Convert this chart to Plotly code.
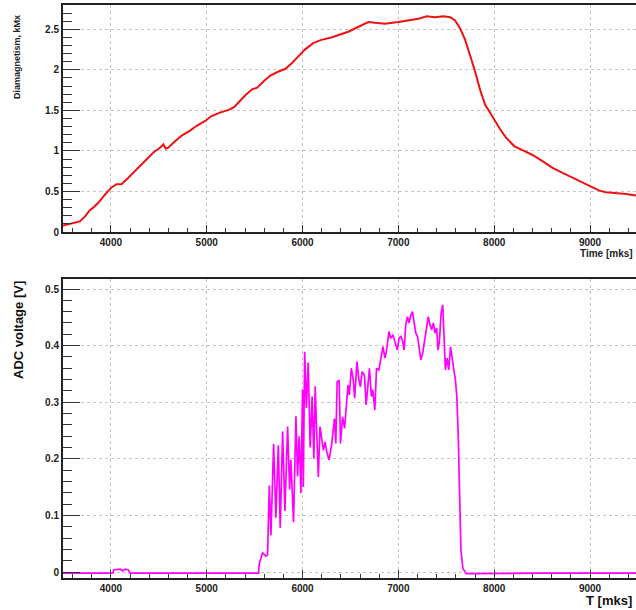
import plotly.graph_objects as go

# ---- data ----
time_top = [3500, 3590, 3676, 3728, 3780, 3815, 3868, 3937, 4007, 4059, 4111, 4181, 4268, 4355,
            4443, 4512, 4547, 4571, 4599, 4669, 4739, 4826, 4895, 4983, 5050, 5131, 5234, 5285,
            5337, 5405, 5474, 5526, 5595, 5663, 5749, 5818, 5887, 5955, 6024, 6110, 6196, 6299,
            6402, 6477, 6547, 6617, 6686, 6756, 6861, 7000, 7105, 7209, 7296, 7383, 7470, 7540,
            7592, 7645, 7697, 7749, 7801, 7854, 7906, 7958, 8010, 8060, 8120, 8208, 8295, 8400,
            8504, 8609, 8714, 8818, 8923, 9010, 9098, 9168, 9272, 9377, 9480]
diamagnetism = [0.08, 0.11, 0.13, 0.19, 0.27, 0.30, 0.36, 0.46, 0.55, 0.59, 0.59, 0.67, 0.77, 0.88,
                0.98, 1.04, 1.08, 1.03, 1.04, 1.12, 1.19, 1.25, 1.31, 1.37, 1.43, 1.47, 1.51, 1.54,
                1.61, 1.69, 1.76, 1.78, 1.86, 1.93, 1.98, 2.01, 2.08, 2.16, 2.25, 2.33, 2.37, 2.40,
                2.44, 2.47, 2.51, 2.55, 2.59, 2.58, 2.57, 2.59, 2.61, 2.63, 2.66, 2.65, 2.66, 2.65,
                2.61, 2.51, 2.37, 2.18, 1.98, 1.75, 1.57, 1.47, 1.36, 1.27, 1.17, 1.06, 1.01, 0.95,
                0.875, 0.79, 0.73, 0.67, 0.61, 0.56, 0.51, 0.49, 0.48, 0.47, 0.45]

time_adc = [3500, 3700, 4020, 4030, 4100, 4120, 4150, 4180, 4200, 5540, 5549, 5583, 5618, 5635,
            5653, 5670, 5698, 5722, 5747, 5767, 5792, 5816, 5844, 5865, 5878, 5906, 5931, 5948,
            5965, 5983, 6000, 6008, 6022, 6040, 6059, 6080, 6100, 6118, 6132, 6147, 6165, 6182,
            6200, 6218, 6235, 6253, 6277, 6305, 6333, 6347, 6361, 6382, 6396, 6418, 6439, 6460,
            6474, 6488, 6509, 6530, 6544, 6568, 6586, 6604, 6621, 6646, 6663, 6681, 6698, 6719,
            6733, 6754, 6772, 6796, 6818, 6839, 6860, 6877, 6902, 6919, 6944, 6965, 6989, 7007,
            7025, 7042, 7060, 7077, 7095, 7112, 7130, 7147, 7165, 7182, 7200, 7218, 7235, 7253,
            7270, 7288, 7312, 7330, 7347, 7365, 7382, 7400, 7414, 7428, 7446, 7463, 7477, 7491,
            7509, 7526, 7544, 7561, 7579, 7596, 7610, 7625, 7639, 7653, 7674, 7709, 8500, 9480]
adc_voltage = [-0.002, -0.002, -0.002, 0.004, 0.005, 0.002, 0.005, 0.004, -0.002, -0.002, 0.015,
               0.034, 0.028, 0.030, 0.153, 0.065, 0.226, 0.096, 0.224, 0.078, 0.248, 0.108, 0.257,
               0.146, 0.198, 0.088, 0.275, 0.169, 0.240, 0.139, 0.322, 0.150, 0.389, 0.290, 0.370,
               0.220, 0.310, 0.200, 0.328, 0.250, 0.168, 0.257, 0.233, 0.215, 0.230, 0.212, 0.198,
               0.227, 0.271, 0.227, 0.336, 0.339, 0.227, 0.274, 0.254, 0.298, 0.330, 0.313, 0.360,
               0.339, 0.307, 0.372, 0.342, 0.327, 0.354, 0.348, 0.295, 0.327, 0.360, 0.310, 0.322,
               0.286, 0.360, 0.357, 0.380, 0.398, 0.378, 0.392, 0.425, 0.413, 0.419, 0.404, 0.392,
               0.413, 0.416, 0.410, 0.392, 0.437, 0.451, 0.440, 0.454, 0.460, 0.440, 0.422, 0.416,
               0.392, 0.375, 0.386, 0.407, 0.428, 0.451, 0.437, 0.428, 0.440, 0.422, 0.431, 0.392,
               0.407, 0.457, 0.472, 0.425, 0.357, 0.378, 0.357, 0.398, 0.375, 0.357, 0.339, 0.310,
               0.239, 0.121, 0.038, 0.006, -0.003, -0.002, -0.002]

top_title_y = "Diamagnetism, kMx"
top_title_x = "Time [mks]"
bot_title_y = "ADC voltage [V]"
bot_title_x = "T [mks]"

FONT = "Liberation Sans, Arial, sans-serif"

fig = go.Figure()
fig.add_trace(go.Scatter(x=time_top, y=diamagnetism, mode="lines",
                         line=dict(color="#ee1111", width=2), xaxis="x", yaxis="y"))
fig.add_trace(go.Scatter(x=time_adc, y=adc_voltage, mode="lines",
                         line=dict(color="#ff00ff", width=1.7), xaxis="x2", yaxis="y2"))

tickfont = dict(family=FONT, size=10, color="#222", weight="bold")
common_x = dict(range=[3500, 9480], dtick=1000, tick0=0, showline=True, linecolor="#222",
                linewidth=2, mirror=True, ticks="inside", tickwidth=1, tickcolor="#333",
                showgrid=True, gridcolor="#c4c4c4", griddash="dot", gridwidth=1,
                zeroline=False, tickfont=tickfont)
common_y = dict(showline=True, linecolor="#222", linewidth=2, mirror=False, ticks="inside",
                ticklen=17, tickwidth=1, tickcolor="#333", showgrid=True, gridcolor="#c4c4c4",
                griddash="dot", gridwidth=1, zeroline=False, tickfont=tickfont)

top_lo = (578 - 232) / 573
bot_hi = (578 - 279) / 573

fig.update_layout(
    width=636, height=610,
    margin=dict(l=63, r=0, t=5, b=32),
    plot_bgcolor="white", paper_bgcolor="white",
    showlegend=False,
    xaxis=dict(domain=[0, 1], anchor="y", ticklen=7,
               minor=dict(ticks="inside", ticklen=4, dtick=200, tickcolor="#333"), **common_x),
    yaxis=dict(domain=[top_lo, 1], anchor="x", range=[0, 2.8], dtick=0.5,
               minor=dict(ticks="inside", ticklen=9, dtick=0.1, tickcolor="#333"), **common_y),
    xaxis2=dict(domain=[0, 1], anchor="y2", ticklen=8,
                minor=dict(ticks="inside", ticklen=4, dtick=200, tickcolor="#333"), **common_x),
    yaxis2=dict(domain=[0, bot_hi], anchor="x2", range=[-0.0106, 0.5177], dtick=0.1,
                minor=dict(ticks="inside", ticklen=9, dtick=0.02, tickcolor="#333"), **common_y),
    annotations=[
        dict(text=top_title_y, xref="paper", yref="paper", x=(17 - 63) / 573, y=(578 - 57) / 573,
             xanchor="center", yanchor="middle", textangle=-90, showarrow=False,
             font=dict(family=FONT, size=9, color="#222", weight="bold")),
        dict(text=top_title_x, xref="paper", yref="paper", x=(635 - 63) / 573, y=(578 - 253) / 573,
             xanchor="right", yanchor="middle", showarrow=False,
             font=dict(family=FONT, size=10, color="#222", weight="bold")),
        dict(text=bot_title_y, xref="paper", yref="paper", x=(18 - 63) / 573, y=(578 - 330) / 573,
             xanchor="center", yanchor="middle", textangle=-90, showarrow=False,
             font=dict(family=FONT, size=13, color="#111", weight="bold")),
        dict(text=bot_title_x, xref="paper", yref="paper", x=(634 - 63) / 573, y=(578 - 600) / 573,
             xanchor="right", yanchor="middle", showarrow=False,
             font=dict(family=FONT, size=13, color="#111", weight="bold")),
    ],
)

fig.write_html("out.html", config={"displayModeBar": False},
               post_script="document.body.style.margin='0';document.body.style.overflow='hidden';")
